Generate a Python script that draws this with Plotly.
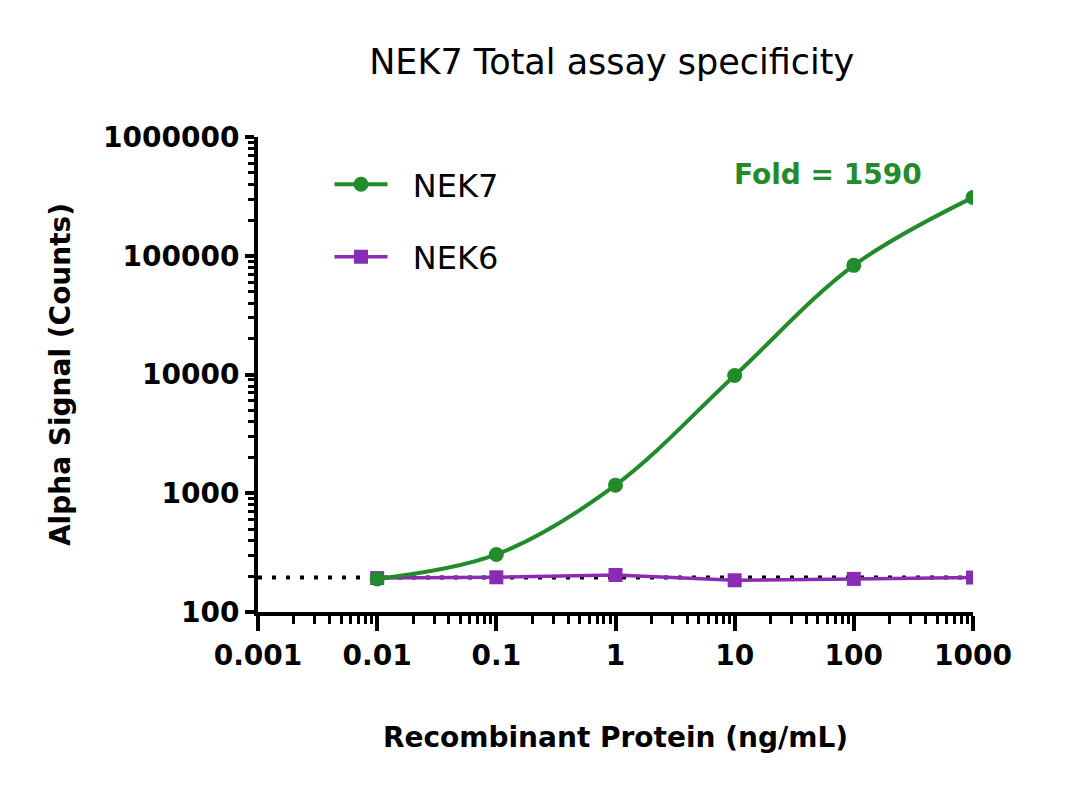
import plotly.graph_objects as go

# concentrations (ng/mL)
conc = [0.01, 0.1, 1, 10, 100, 1000]

# alpha signal counts
nek7_signal = [190, 305, 1170, 9800, 83000, 310000]
nek6_signal = [193, 196, 205, 185, 190, 195]

# background level (dotted line)
bg_x = [0.001, 1000]
bg_y = [195, 195]

green = '#228B2B'
purple = '#8A2BB4'

x_major = [0.001, 0.01, 0.1, 1, 10, 100, 1000]
x_labels = ['0.001', '0.01', '0.1', '1', '10', '100', '1000']
y_major = [100, 1000, 10000, 100000, 1000000]
y_labels = ['100', '1000', '10000', '100000', '1000000']

x_minor = [k * d for d in [0.001, 0.01, 0.1, 1, 10, 100] for k in range(2, 10)]
y_minor = [k * d for d in [100, 1000, 10000, 100000] for k in range(2, 10)]

bold = 'DejaVu Sans'
gap = '\u00a0\u00a0'

fig = go.Figure()

fig.add_trace(go.Scatter(x=bg_x, y=bg_y, mode='lines',
                         line=dict(color='black', width=4, dash='4px,10px'),
                         showlegend=False, hoverinfo='skip'))

fig.add_trace(go.Scatter(x=conc, y=nek6_signal, mode='lines+markers', name=gap + 'NEK6',
                         legendgroup='b', legendrank=2,
                         line=dict(color=purple, width=3.5),
                         marker=dict(symbol='square', size=14, color=purple)))

fig.add_trace(go.Scatter(x=conc, y=nek7_signal, mode='lines+markers', name=gap + 'NEK7',
                         legendgroup='a', legendrank=1,
                         line=dict(color=green, width=4, shape='spline', smoothing=1.0),
                         marker=dict(symbol='circle', size=15, color=green)))

fig.add_annotation(x=0.797, y=0.92, xref='paper', yref='paper', text='<b>Fold = 1590</b>',
                   xanchor='center', yanchor='middle',
                   showarrow=False, font=dict(size=28, color=green, family=bold))

fig.update_xaxes(type='log', range=[-3, 3],
                 tickvals=x_major, ticktext=['<b>%s</b>' % t for t in x_labels],
                 ticks='outside', ticklen=15, tickwidth=4, tickcolor='black',
                 minor=dict(tickvals=x_minor, ticks='outside', ticklen=8, tickwidth=3, tickcolor='black'),
                 showline=True, linewidth=4, linecolor='black',
                 showgrid=False, zeroline=False,
                 tickfont=dict(size=28, color='black', family=bold),
                 title=dict(text='<b>Recombinant Protein (ng/mL)</b>', standoff=58,
                            font=dict(size=28, color='black', family=bold)))

fig.update_yaxes(type='log', range=[2, 6],
                 tickvals=y_major, ticktext=['<b>%s</b>' % t for t in y_labels],
                 ticks='outside', ticklen=9, tickwidth=4, tickcolor='black',
                 minor=dict(tickvals=y_minor, ticks='outside', ticklen=6, tickwidth=3, tickcolor='black'),
                 showline=True, linewidth=4, linecolor='black',
                 showgrid=False, zeroline=False,
                 tickfont=dict(size=28, color='black', family=bold),
                 title=dict(text='<b>Alpha Signal (Counts)</b>', standoff=25,
                            font=dict(size=28, color='black', family=bold)))

fig.update_layout(
    width=1080, height=791,
    margin=dict(l=250, r=115, t=129, b=187),
    plot_bgcolor='white', paper_bgcolor='white',
    title=dict(text='NEK7 Total assay specificity', x=0.559, xanchor='center',
               y=0.932, yanchor='middle', font=dict(size=35, color='black', family='DejaVu Sans')),
    legend=dict(x=0.1, y=0.958, xanchor='left', yanchor='top',
                traceorder='grouped', font=dict(size=32, color='black', family='DejaVu Sans'),
                itemwidth=53, tracegroupgap=28, bgcolor='rgba(0,0,0,0)'),
    showlegend=True,
)

fig.write_html("out.html")
